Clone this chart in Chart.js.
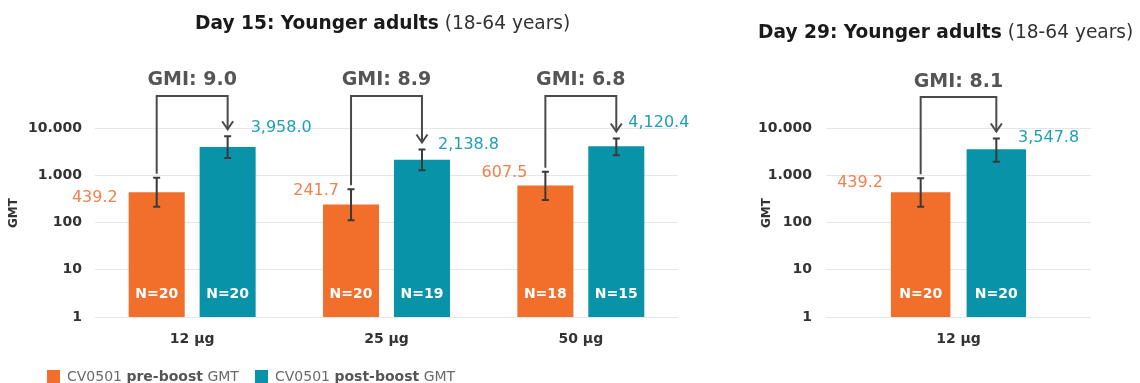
<!DOCTYPE html>
<html>
<head>
<meta charset="utf-8">
<script src="https://cdn.jsdelivr.net/npm/chart.js@4/dist/chart.umd.min.js"></script>
<style>
  html, body { margin: 0; padding: 0; background: #fff; width: 1140px; height: 383px; overflow: hidden; }
  canvas { position: absolute; top: 0; }
  #c1 { left: 0; }
  #c2 { left: 700px; }
</style>
</head>
<body>
<canvas id="c1" width="700" height="383"></canvas>
<canvas id="c2" width="440" height="383"></canvas>
<script>
// ---------- DATA ----------
const categoriesD15 = ['12 µg', '25 µg', '50 µg'];
const preD15 = [439.2, 241.7, 607.5];
const postD15 = [3958.0, 2138.8, 4120.4];
const preLowD15 = [215, 112, 298];
const preHighD15 = [880, 508, 1180];
const postLowD15 = [2330, 1280, 2660];
const postHighD15 = [6700, 3510, 6000];
const preND15 = [20, 20, 18];
const postND15 = [20, 19, 15];
const gmiD15 = [9.0, 8.9, 6.8];

const categoriesD29 = ['12 µg'];
const preD29 = [439.2];
const postD29 = [3547.8];
const preLowD29 = [215];
const preHighD29 = [860];
const postLowD29 = [1920];
const postHighD29 = [6000];
const preND29 = [20];
const postND29 = [20];
const gmiD29 = [8.1];

const yTickValues = [1, 10, 100, 1000, 10000];
const legendLabels = [['CV0501 ', 'pre-boost', ' GMT'], ['CV0501 ', 'post-boost', ' GMT']];

// ---------- LAYOUT (pixel offsets for value labels, relative to bar edges/top) ----------
const preLabelOffsetD15 = [[-11, 6], [16, -14], [10, -13]];
const postLabelOffsetD15 = [[-5, -19], [-12, -15], [-16, -23]];
const preLabelOffsetD29 = [[-8, -9]];
const postLabelOffsetD29 = [[-8, -11]];

// ---------- STYLE ----------
const FONT = "'DejaVu Sans', Verdana, sans-serif";
const ORANGE = '#F26F2B';
const TEAL = '#0993A8';
const ORANGE_TXT = '#F2814F';
const TEAL_TXT = '#1FA0B4';

function fmtTick(v) {
  return String(v).replace(/\B(?=(\d{3})+(?!\d))/g, '.');
}
function fmtVal(v) {
  return v.toFixed(1).replace(/\B(?=(\d{3})+(?!\d))/g, ',');
}

function drawMixed(ctx, parts, x, y, size, weights, colors) {
  let cx = x;
  parts.forEach((p, i) => {
    ctx.font = weights[i] + ' ' + size + 'px ' + FONT;
    ctx.fillStyle = colors[i];
    ctx.fillText(p, cx, y);
    cx += ctx.measureText(p).width;
  });
}

function makeAnnot(cfg) {
  return {
    id: 'annot',
    afterDatasetsDraw(chart) {
      const ctx = chart.ctx;
      const ys = chart.scales.y;
      const ca = chart.chartArea;
      const m0 = chart.getDatasetMeta(0), m1 = chart.getDatasetMeta(1);
      ctx.save();
      // error bars
      [[m0, cfg.preLow, cfg.preHigh], [m1, cfg.postLow, cfg.postHigh]].forEach(([m, lo, hi]) => {
        m.data.forEach((bar, j) => {
          const yl = ys.getPixelForValue(lo[j]), yh = ys.getPixelForValue(hi[j]);
          ctx.strokeStyle = '#3a3a3a';
          ctx.lineWidth = 2;
          ctx.beginPath();
          ctx.moveTo(bar.x, yl); ctx.lineTo(bar.x, yh);
          ctx.moveTo(bar.x - 3.5, yl); ctx.lineTo(bar.x + 3.5, yl);
          ctx.moveTo(bar.x - 3.5, yh); ctx.lineTo(bar.x + 3.5, yh);
          ctx.stroke();
        });
      });
      // N labels
      ctx.font = 'bold 14px ' + FONT;
      ctx.fillStyle = '#ffffff';
      ctx.textAlign = 'center';
      ctx.textBaseline = 'middle';
      m0.data.forEach((bar, j) => ctx.fillText('N=' + cfg.preN[j], bar.x, ca.bottom - 23));
      m1.data.forEach((bar, j) => ctx.fillText('N=' + cfg.postN[j], bar.x, ca.bottom - 23));
      // value labels
      ctx.font = '16px ' + FONT;
      ctx.textAlign = 'right';
      ctx.fillStyle = ORANGE_TXT;
      m0.data.forEach((bar, j) => {
        const o = cfg.preOff[j];
        ctx.fillText(fmtVal(cfg.pre[j]), bar.x - bar.width / 2 + o[0], bar.y + o[1]);
      });
      ctx.textAlign = 'left';
      ctx.fillStyle = TEAL_TXT;
      m1.data.forEach((bar, j) => {
        const o = cfg.postOff[j];
        ctx.fillText(fmtVal(cfg.post[j]), bar.x + bar.width / 2 + o[0], bar.y + o[1]);
      });
      // GMI brackets
      const topY = ca.top - cfg.bracketTop;
      m0.data.forEach((b0, j) => {
        const b1 = m1.data[j];
        const startY = ys.getPixelForValue(cfg.preHigh[j]) - 4;
        const tipY = ys.getPixelForValue(cfg.postHigh[j]) - 7;
        ctx.strokeStyle = '#4a4a4a';
        ctx.lineWidth = 2;
        ctx.lineJoin = 'miter';
        ctx.beginPath();
        ctx.moveTo(b0.x, startY);
        ctx.lineTo(b0.x, topY);
        ctx.lineTo(b1.x, topY);
        ctx.lineTo(b1.x, tipY);
        ctx.stroke();
        ctx.beginPath();
        ctx.moveTo(b1.x - 5.5, tipY - 8);
        ctx.lineTo(b1.x, tipY);
        ctx.lineTo(b1.x + 5.5, tipY - 8);
        ctx.stroke();
        ctx.font = 'bold ' + cfg.gmiSize + 'px ' + FONT;
        ctx.fillStyle = '#555555';
        ctx.textAlign = 'center';
        ctx.textBaseline = 'middle';
        ctx.fillText('GMI: ' + cfg.gmi[j].toFixed(1), (b0.x + b1.x) / 2, ca.top - cfg.gmiY);
      });
      ctx.restore();
    },
    afterDraw(chart) {
      const ctx = chart.ctx;
      ctx.save();
      ctx.textBaseline = 'middle';
      ctx.textAlign = 'left';
      // title
      drawMixed(ctx, cfg.title, cfg.titleX, cfg.titleY, cfg.titleSize, ['bold', 'normal'], ['#1a1a1a', '#333333']);
      // GMT axis title
      ctx.save();
      ctx.translate(cfg.gmtX, 213);
      ctx.rotate(-Math.PI / 2);
      ctx.font = 'bold 12px ' + FONT;
      ctx.fillStyle = '#333333';
      ctx.textAlign = 'center';
      ctx.fillText('GMT', 0, 0);
      ctx.restore();
      // legend
      if (cfg.legend) {
        const items = [[47, ORANGE, legendLabels[0]], [255, TEAL, legendLabels[1]]];
        items.forEach(([lx, col, parts]) => {
          ctx.fillStyle = col;
          ctx.fillRect(lx, 370, 13, 13);
          ctx.textAlign = 'left';
          drawMixed(ctx, parts, lx + 20, 377, 14, ['normal', 'bold', 'normal'], ['#6a6a6a', '#555555', '#6a6a6a']);
        });
      }
      ctx.restore();
    }
  };
}

function makeChart(el, cats, pre, post, opts, annotCfg) {
  return new Chart(el, {
    type: 'bar',
    data: {
      labels: cats,
      datasets: [
        { label: 'CV0501 pre-boost GMT', data: pre, backgroundColor: ORANGE, barPercentage: opts.barPct, categoryPercentage: opts.catPct },
        { label: 'CV0501 post-boost GMT', data: post, backgroundColor: TEAL, barPercentage: opts.barPct, categoryPercentage: opts.catPct }
      ]
    },
    options: {
      responsive: false,
      animation: false,
      devicePixelRatio: 1,
      layout: { padding: { top: 128, right: opts.padRight, bottom: 0, left: 0 } },
      plugins: { legend: { display: false }, title: { display: false }, tooltip: { enabled: false } },
      scales: {
        x: {
          grid: { display: false },
          border: { display: false },
          ticks: { font: { family: FONT, size: 14, weight: 'bold' }, color: '#333333', padding: 6 },
          afterFit(s) { s.height = 66; }
        },
        y: {
          type: 'logarithmic',
          min: 1,
          max: 10000,
          grid: { color: '#e6e6e6', lineWidth: 1, drawTicks: false },
          border: { display: false },
          afterBuildTicks(s) { s.ticks = yTickValues.map(v => ({ value: v })); },
          ticks: {
            font: { family: FONT, size: 14, weight: 'bold' },
            color: '#333333',
            padding: opts.tickPad,
            callback: (v) => fmtTick(v)
          },
          afterFit(s) { s.width = opts.axisW; }
        }
      }
    },
    plugins: [makeAnnot(annotCfg)]
  });
}

makeChart(document.getElementById('c1'), categoriesD15, preD15, postD15,
  { barPct: 0.79, catPct: 0.73, padRight: 22, axisW: 95, tickPad: 13 },
  {
    pre: preD15, post: postD15, preLow: preLowD15, preHigh: preHighD15, postLow: postLowD15, postHigh: postHighD15,
    preN: preND15, postN: postND15, gmi: gmiD15, preOff: preLabelOffsetD15, postOff: postLabelOffsetD15,
    bracketTop: 32, gmiY: 48, gmiSize: 19,
    title: ['Day 15: Younger adults', ' (18-64 years)'], titleX: 195, titleY: 24, titleSize: 18.6,
    gmtX: 14, legend: true
  });

makeChart(document.getElementById('c2'), categoriesD29, preD29, postD29,
  { barPct: 0.786, catPct: 0.571, padRight: 49, axisW: 126, tickPad: 14 },
  {
    pre: preD29, post: postD29, preLow: preLowD29, preHigh: preHighD29, postLow: postLowD29, postHigh: postHighD29,
    preN: preND29, postN: postND29, gmi: gmiD29, preOff: preLabelOffsetD29, postOff: postLabelOffsetD29,
    bracketTop: 31, gmiY: 46, gmiSize: 19,
    title: ['Day 29: Younger adults', ' (18-64 years)'], titleX: 58, titleY: 33, titleSize: 18.6,
    gmtX: 67, legend: false
  });
</script>
</body>
</html>
